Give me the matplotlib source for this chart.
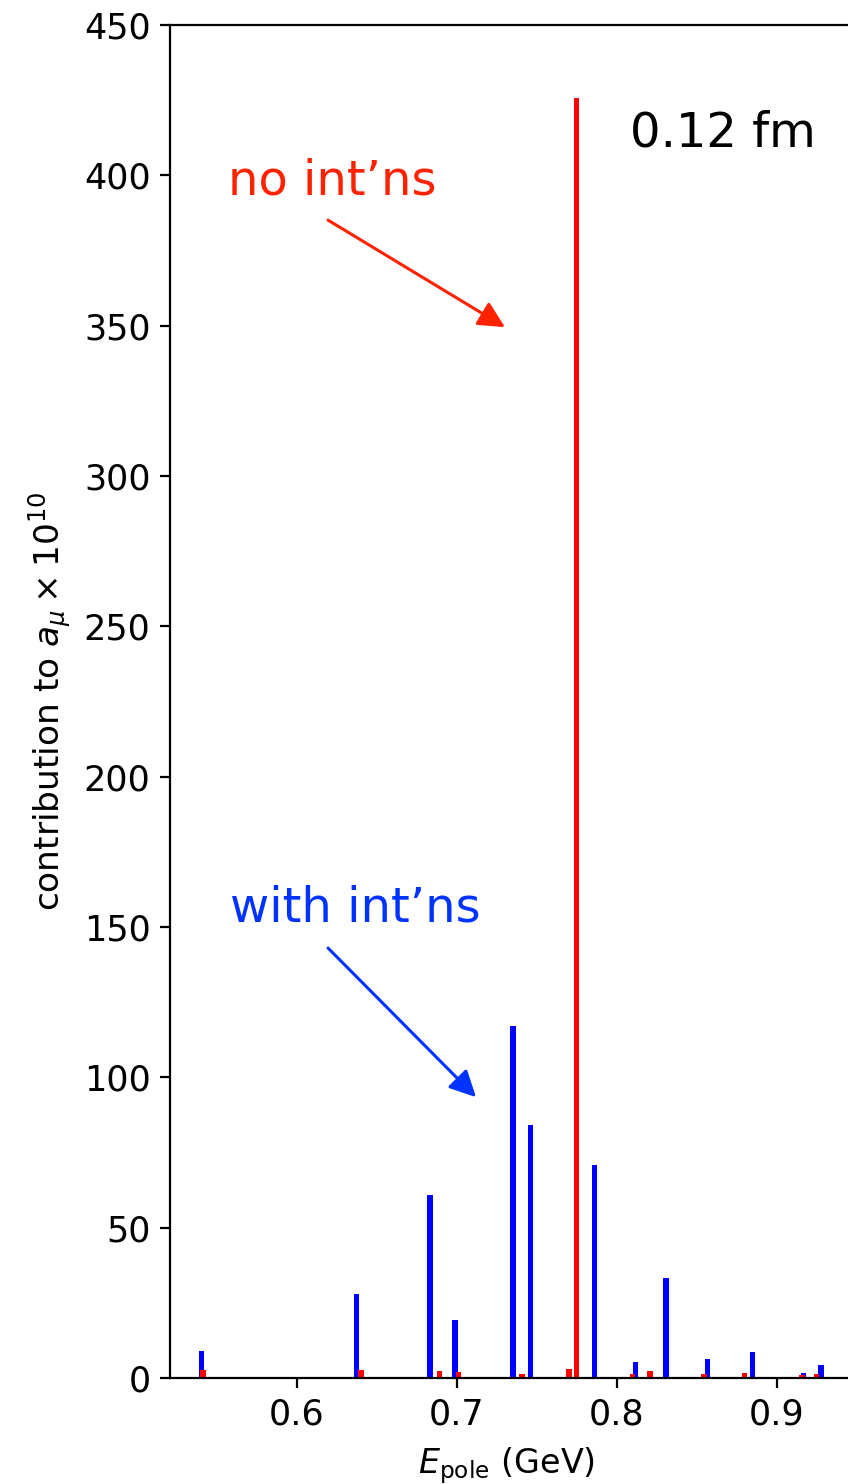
import numpy as np
import matplotlib.pyplot as plt

# pole energies (GeV) and contributions
E_int = [0.5404, 0.6372, 0.6831, 0.6988, 0.7350, 0.7459, 0.7858,
         0.8117, 0.8306, 0.8566, 0.8846, 0.9164, 0.9275]
a_int = [9.0, 28.0, 61.0, 19.3, 117.0, 84.0, 71.0,
         5.3, 33.3, 6.3, 8.6, 1.7, 4.3]

E_free = [0.5412, 0.6400, 0.6890, 0.7009, 0.7406, 0.7700, 0.7748,
          0.8099, 0.8206, 0.8544, 0.8797, 0.9156, 0.9246]
a_free = [2.5, 2.7, 2.3, 1.9, 1.2, 2.9, 425.7,
          1.3, 2.2, 1.3, 1.7, 1.1, 1.4]

fig = plt.figure(figsize=(4.24, 7.42), dpi=200)
# axes runs past the right edge of the figure, as in the original crop
ax = fig.add_axes([170/848, 106/1484, 695/848, 1353/1484])

w = 0.0033
ax.bar(E_int, a_int, width=w, color='blue')
ax.bar(E_free, a_free, width=w, color='red')

ax.set_xlim(0.520625, 0.955)
ax.set_ylim(0, 450)
ax.set_xticks([0.6, 0.7, 0.8, 0.9])
ax.set_yticks(np.arange(0, 451, 50))
ax.tick_params(labelsize=12.6)
ax.set_xlabel(r'$E_{\rm pole}$ (GeV)', fontsize=12)
ax.xaxis.set_label_coords(0.484, -0.050)
ax.set_ylabel(r'contribution to $a_\mu\times10^{10}$', fontsize=12.4)

ax.text(0.5569, 393.7, 'no int’ns', color='#ff2200', fontsize=17.3)
ax.annotate('', xy=(0.730, 349.5), xytext=(0.6194, 385.1),
            arrowprops=dict(arrowstyle='-|>', color='#ff2200', lw=1.1,
                            mutation_scale=20, shrinkA=0, shrinkB=0))
ax.text(0.5581, 151.7, 'with int’ns', color='#0033ff', fontsize=17.3)
ax.annotate('', xy=(0.7119, 93.4), xytext=(0.6194, 143.0),
            arrowprops=dict(arrowstyle='-|>', color='#0033ff', lw=1.1,
                            mutation_scale=20, shrinkA=0, shrinkB=0))
ax.text(0.8081, 409.5, '0.12 fm', color='black', fontsize=17.3)

fig.savefig('out.png', dpi=200)
